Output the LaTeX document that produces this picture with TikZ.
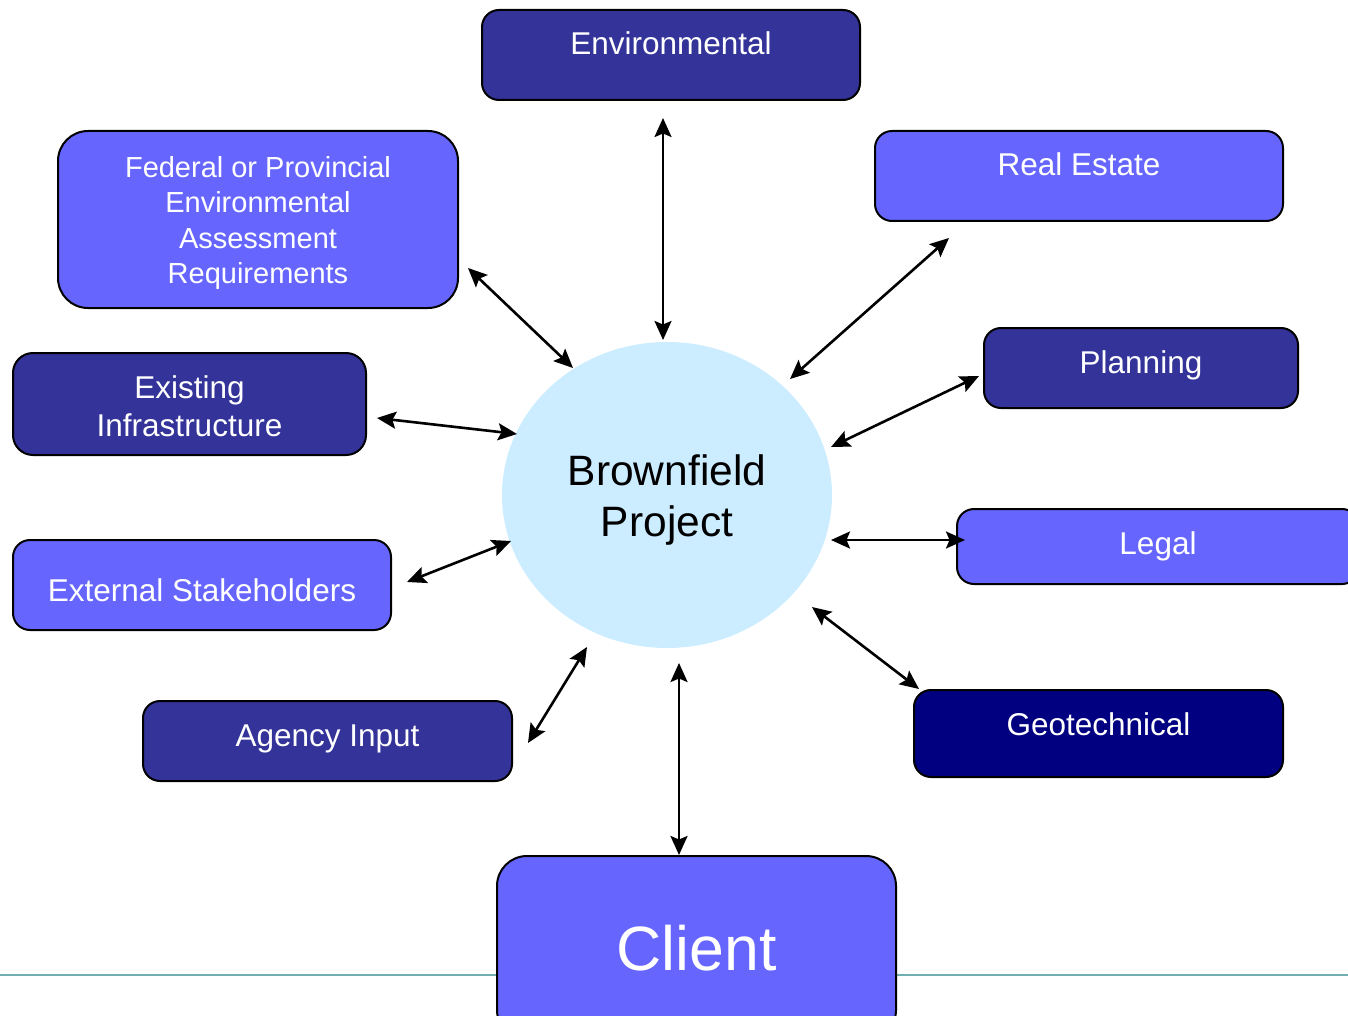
\documentclass[tikz,border=0pt]{standalone}
\usepackage{fontspec}
\setmainfont{Liberation Sans}
\usetikzlibrary{shapes.geometric,arrows.meta}

\definecolor{darkbox}{HTML}{333399}
\definecolor{lightbox}{HTML}{6666FF}
\definecolor{navybox}{HTML}{000080}
\definecolor{hub}{HTML}{CCECFF}
\definecolor{rule}{HTML}{6FAFB0}

\tikzset{
  box/.style={draw=black, line width=2pt, rounded corners=17pt, inner sep=0pt},
  toptext/.style={anchor=base, yshift=-46pt, text=white, font=\fontsize{31.5}{38}\selectfont},
  link/.style={line width=2.6pt, {Stealth[length=19pt,width=17pt,inset=3.5pt]}-{Stealth[length=19pt,width=17pt,inset=3.5pt]}}
}

\begin{document}
\begin{tikzpicture}[x=1pt,y=-1pt]
    \useasboundingbox (0,0) rectangle (1348,1016);
    \clip (0,0) rectangle (1348,1016);
    \draw[rule, line width=2pt] (0,975) -- (1348,975);
    % hub
    \node[ellipse, fill=hub, minimum width=330pt, minimum height=306pt] (bp) at (667,495) {};
    \node[align=center, font=\fontsize{42.5}{51}\selectfont] (bpText) at (667,500) {Brownfield\\Project};
    % boxes round the hub
    \node[box, fill=darkbox, minimum width=378pt, minimum height=90pt,
      label={[toptext]north:Environmental}] (env) at (671,55) {};
    \node[box, fill=lightbox, rounded corners=30pt, minimum width=400pt, minimum height=177pt] (fed) at (258,219.5) {};
    \node[text=white, align=center, font=\fontsize{29}{35.5}\selectfont] (fedText) at (258,223)
      {Federal or Provincial\\Environmental\\Assessment\\Requirements};
    \node[box, fill=lightbox, minimum width=408pt, minimum height=90pt,
      label={[toptext]north:Real Estate}] (real) at (1079,176) {};
    \node[box, fill=darkbox, minimum width=314pt, minimum height=80pt,
      label={[toptext]north:Planning}] (plan) at (1141,368) {};
    \node[box, fill=lightbox, minimum width=402pt, minimum height=75pt,
      label={[toptext]north:Legal}] (legal) at (1158,546.5) {};
    \node[box, fill=navybox, minimum width=369pt, minimum height=87pt,
      label={[toptext]north:Geotechnical}] (geo) at (1098.5,733.5) {};
    \node[box, fill=lightbox, rounded corners=30pt, minimum width=399pt, minimum height=184pt,
      label={[toptext, yshift=-69pt, font=\fontsize{62.6}{70}\selectfont]north:Client}] (client) at (696.5,948) {};
    \node[box, fill=darkbox, minimum width=369pt, minimum height=80pt,
      label={[toptext]north:Agency Input}] (agency) at (327.5,741) {};
    \node[box, fill=lightbox, minimum width=378pt, minimum height=90pt,
      label={[toptext, yshift=-16pt]north:External Stakeholders}] (ext) at (202,585) {};
    \node[box, fill=darkbox, rounded corners=20pt, minimum width=353pt, minimum height=102pt] (exist) at (189.5,404) {};
    \node[text=white, align=center, font=\fontsize{31.5}{38}\selectfont] (existText) at (189.5,406)
      {Existing\\Infrastructure};
    % arrow ends
    \coordinate (envA) at (663,118);   \coordinate (envB) at (663,340);
    \coordinate (fedA) at (468,268);   \coordinate (fedB) at (573,368);
    \coordinate (realA) at (949,238);  \coordinate (realB) at (790,379);
    \coordinate (planA) at (979,376);  \coordinate (planB) at (831,447);
    \coordinate (existA) at (377,418); \coordinate (existB) at (517,434);
    \coordinate (legalA) at (965,540); \coordinate (legalB) at (831,540);
    \coordinate (extA) at (407,582);   \coordinate (extB) at (511,541);
    \coordinate (geoA) at (919,689);   \coordinate (geoB) at (812,607);
    \coordinate (agencyA) at (528,743);\coordinate (agencyB) at (587,647);
    \coordinate (clientA) at (679,855);\coordinate (clientB) at (679,663);
    \foreach \n in {env,fed,real,plan,exist,legal,ext,geo,agency,client}
      \draw[link] (\n A) -- (\n B);
  \end{tikzpicture}
\end{document}
